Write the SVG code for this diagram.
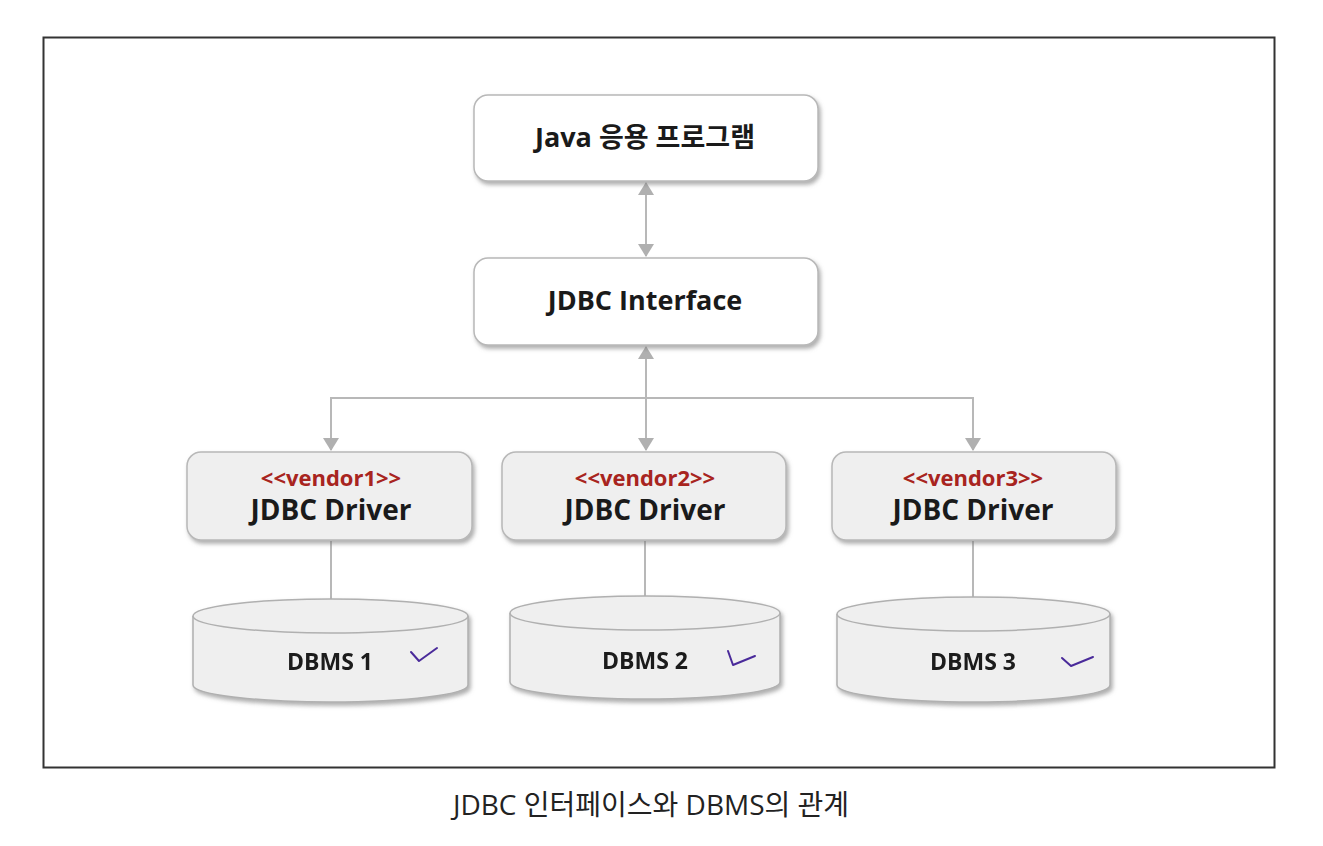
<svg xmlns="http://www.w3.org/2000/svg" width="1323" height="846" viewBox="0 0 1323 846">
<defs>
<filter id="sh" x="-10%" y="-10%" width="125%" height="140%">
<feDropShadow dx="2" dy="3" stdDeviation="2" flood-color="#777" flood-opacity="0.6"/>
</filter>
<marker id="ah" viewBox="0 0 13 16" refX="12" refY="8" markerWidth="13" markerHeight="16" markerUnits="userSpaceOnUse" orient="auto-start-reverse">
<path d="M0,0 L13,8 L0,16 Z" fill="#b0b0b0"/>
</marker>
<style>
.box{fill:#ffffff;stroke:#b8b8b8;stroke-width:1.5;filter:url(#sh)}
.gbox{fill:#efefef;stroke:#b8b8b8;stroke-width:1.5;filter:url(#sh)}
.cyl{fill:#efefef;stroke:#b0b0b0;stroke-width:1.5}
.con{stroke:#b8b8b8;stroke-width:2;fill:none}
.t{font-family:"Open Sans","Noto Sans CJK KR",sans-serif;font-weight:bold;fill:#1a1a1a;text-anchor:middle}
.big{font-size:27px}
.drv{font-size:28px}
.ven{font-size:22px;fill:#a82420}
.db{font-size:23px}
.chk{stroke:#4a2a9a;stroke-width:2;fill:none;stroke-linecap:round;stroke-linejoin:round}
</style>
</defs>
<rect x="0" y="0" width="1323" height="846" fill="#ffffff"/>
<rect x="43.5" y="37.5" width="1231" height="730" fill="#ffffff" stroke="#333" stroke-width="2"/>

<g id="connectors">
<line class="con" x1="646" y1="183" x2="646" y2="256" marker-start="url(#ah)" marker-end="url(#ah)"/>
<line class="con" x1="646" y1="347" x2="646" y2="450" marker-start="url(#ah)" marker-end="url(#ah)"/>
<polyline class="con" points="331,450 331,398 973,398 973,450" marker-start="url(#ah)" marker-end="url(#ah)"/>
<line class="con" x1="331" y1="541" x2="331" y2="600"/>
<line class="con" x1="645" y1="541" x2="645" y2="597"/>
<line class="con" x1="973" y1="541" x2="973" y2="599"/>
</g>

<g id="java">
<rect class="box" x="474" y="95" width="344" height="86" rx="14"/>
<text class="t big" x="645" y="147">Java 응용 프로그램</text>
</g>
<g id="jdbc-interface">
<rect class="box" x="474" y="258" width="344" height="87" rx="14"/>
<text class="t big" x="645" y="310">JDBC Interface</text>
</g>

<g id="driver1">
<rect class="gbox" x="187" y="452" width="285" height="88" rx="14"/>
<text class="t ven" x="331" y="486">&lt;&lt;vendor1&gt;&gt;</text>
<text class="t drv" x="331" y="520">JDBC Driver</text>
</g>
<g id="driver2">
<rect class="gbox" x="502" y="452" width="284" height="88" rx="14"/>
<text class="t ven" x="645" y="486">&lt;&lt;vendor2&gt;&gt;</text>
<text class="t drv" x="645" y="520">JDBC Driver</text>
</g>
<g id="driver3">
<rect class="gbox" x="832" y="452" width="284" height="88" rx="14"/>
<text class="t ven" x="973" y="486">&lt;&lt;vendor3&gt;&gt;</text>
<text class="t drv" x="973" y="520">JDBC Driver</text>
</g>

<g id="dbms1" filter="url(#sh)">
<path class="cyl" d="M193,616 L193,685 A137.5,17 0 0 0 468,685 L468,616"/>
<ellipse class="cyl" cx="330.5" cy="616" rx="137.5" ry="17"/>
<text class="t db" x="330" y="670">DBMS 1</text>
<polyline class="chk" points="411,652 419,661 437,648"/>
</g>
<g id="dbms2" filter="url(#sh)">
<path class="cyl" d="M510,613 L510,682 A135,17 0 0 0 780,682 L780,613"/>
<ellipse class="cyl" cx="645" cy="613" rx="135" ry="17"/>
<text class="t db" x="645" y="669">DBMS 2</text>
<polyline class="chk" points="728,651 733,665 755,656"/>
</g>
<g id="dbms3" filter="url(#sh)">
<path class="cyl" d="M837,614 L837,685 A136.5,17 0 0 0 1110,685 L1110,614"/>
<ellipse class="cyl" cx="973.5" cy="614" rx="136.5" ry="17"/>
<text class="t db" x="973" y="670">DBMS 3</text>
<polyline class="chk" points="1062,658 1071,666 1093,657"/>
</g>

<text x="651" y="815" font-family="'Open Sans','Noto Sans CJK KR',sans-serif" font-size="28" fill="#222" text-anchor="middle">JDBC 인터페이스와 DBMS의 관계</text>
</svg>
